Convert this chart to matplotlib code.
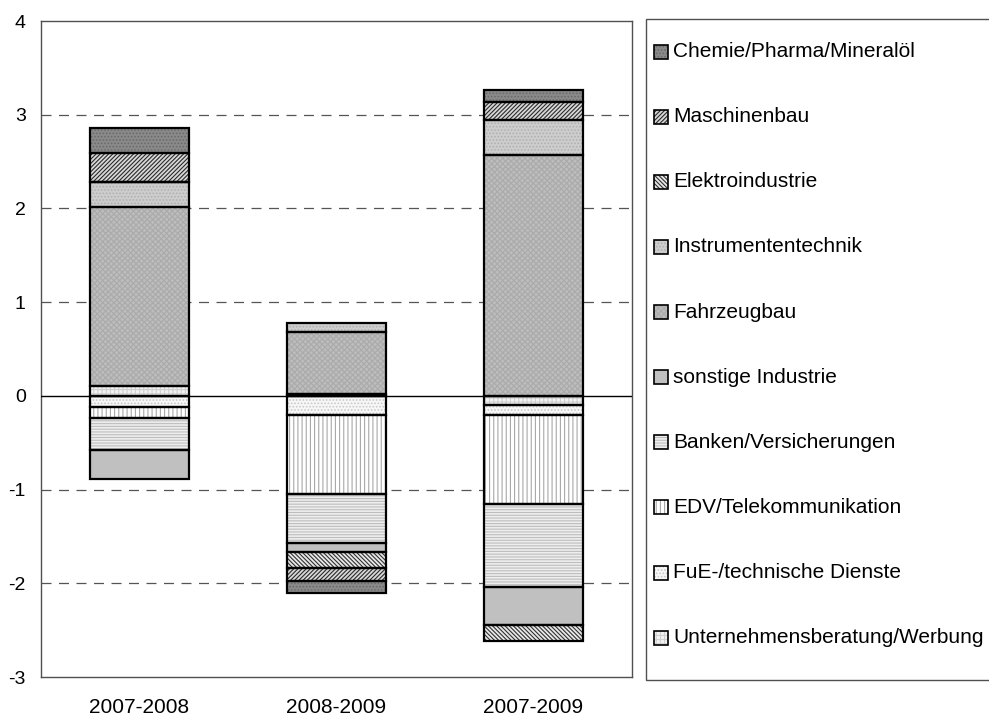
import matplotlib
matplotlib.use('Agg')
import matplotlib.pyplot as plt
from matplotlib.patches import Rectangle
import numpy as np

plt.rcParams['font.family'] = ['Liberation Sans', 'DejaVu Sans']
plt.rcParams['axes.unicode_minus'] = False
plt.rcParams['hatch.linewidth'] = 0.8

periods = ['2007-2008', '2008-2009', '2007-2009']

# series in stacking order (first = closest to zero)
series_names = ['Unternehmensberatung/Werbung', 'FuE-/technische Dienste', 'EDV/Telekommunikation',
                'Banken/Versicherungen', 'sonstige Industrie', 'Fahrzeugbau', 'Instrumententechnik',
                'Elektroindustrie', 'Maschinenbau', 'Chemie/Pharma/Mineralöl']
ub = [0.10, 0.02, -0.10]
fue = [-0.12, -0.20, -0.10]
edv = [-0.12, -0.85, -0.95]
banken = [-0.34, -0.525, -0.89]
sonstige = [-0.31, -0.095, -0.41]
fahrzeug = [1.91, 0.66, 2.57]
instrument = [0.27, 0.10, 0.37]
elektro = [0.0, -0.17, -0.17]
maschinen = [0.31, -0.14, 0.20]
chemie = [0.27, -0.12, 0.12]
series_vals = [ub, fue, edv, banken, sonstige, fahrzeug, instrument, elektro, maschinen, chemie]

# (facecolor, hatch, hatch colour)
styles = [
    ('#f2f2f2', '++++', '#d0d0d0'),
    ('#f7f7f7', '.....', '#c8c8c8'),
    ('#ffffff', '||||', '#a8a8a8'),
    ('#eeeeee', '------', '#bdbdbd'),
    ('#c0c0c0', None, None),
    ('#bdbdbd', 'xxxxxx', '#aaaaaa'),
    ('#cdcdcd', '.....', '#b0b0b0'),
    ('#e8e8e8', '\\\\\\\\\\\\\\\\', '#303030'),
    ('#d8d8d8', '////////', '#2a2a2a'),
    ('#8a8a8a', '.....', '#6a6a6a'),
]

W, H = 989, 717
fig = plt.figure(figsize=(W / 100, H / 100), dpi=100)
ax = fig.add_axes([41 / W, 1 - 677 / H, (632 - 41) / W, (677 - 21) / H])

x = np.arange(len(periods))
pos_bottom = np.zeros(len(periods))
neg_bottom = np.zeros(len(periods))
for vals, (fc, hatch, hc) in zip(series_vals, styles):
    v = np.array(vals, dtype=float)
    bottom = np.where(v >= 0, pos_bottom, neg_bottom)
    ax.bar(x, v, 0.5, bottom=bottom, color=fc, hatch=hatch, edgecolor=hc if hc else fc,
           linewidth=0, zorder=2)
    ax.bar(x, v, 0.5, bottom=bottom, facecolor='none', edgecolor='black', linewidth=1.6, zorder=3)
    pos_bottom = pos_bottom + np.where(v > 0, v, 0)
    neg_bottom = neg_bottom + np.where(v < 0, v, 0)

ax.set_xlim(-0.5, 2.5)
ax.set_ylim(-3, 4)
ax.set_yticks(range(-3, 5))
ax.set_xticks(x)
ax.set_xticklabels(periods)
ax.tick_params(length=0, colors='black')
ax.tick_params(axis='y', pad=11, labelsize=14)
ax.tick_params(axis='x', pad=15, labelsize=15)
for yv in [1, 2, 3, -1, -2]:
    ax.axhline(yv, color='#555555', lw=0.9, ls=(0, (8, 6)), zorder=1)
ax.axhline(0, color='black', lw=1.0, zorder=4)
for s in ax.spines.values():
    s.set_color('#505050')
    s.set_linewidth(1.0)

# legend box, drawn by hand so it runs off the right edge like the original
fig.patches.append(Rectangle((646 / W, 1 - 680 / H), (1100 - 646) / W, (680 - 19) / H,
                             transform=fig.transFigure, facecolor='none', edgecolor='#505050',
                             lw=1.0, clip_on=False))
row_y = 51.7
for name, (fc, hatch, hc) in zip(series_names[::-1], styles[::-1]):
    fig.patches.append(Rectangle((654 / W, 1 - (row_y + 7) / H), 14 / W, 14 / H,
                                 transform=fig.transFigure, facecolor=fc, hatch=hatch,
                                 edgecolor=hc if hc else fc, lw=0))
    fig.patches.append(Rectangle((654 / W, 1 - (row_y + 7) / H), 14 / W, 14 / H,
                                 transform=fig.transFigure, facecolor='none',
                                 edgecolor='black', lw=1.2))
    fig.text(673 / W, 1 - row_y / H, name, fontsize=15, va='center', ha='left')
    row_y += 65.1

fig.savefig('out.png', dpi=100)
